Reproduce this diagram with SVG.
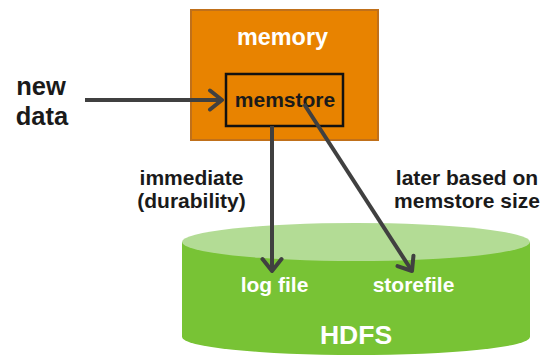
<svg xmlns="http://www.w3.org/2000/svg" width="546" height="355" viewBox="0 0 546 355">
<defs>
<marker id="ah" markerWidth="20" markerHeight="24" refX="16" refY="12" orient="auto" markerUnits="userSpaceOnUse" viewBox="0 0 20 24">
<path d="M4,2.5 L16,12 L4,21.5" fill="none" stroke="#404040" stroke-width="4" stroke-linecap="round" stroke-linejoin="round"/>
</marker>
<style>
text{font-family:"Liberation Sans",Arial,sans-serif;font-weight:bold}
.w{fill:#ffffff}
.k{fill:#1a1a1a}
.c{stroke:#404040;stroke-width:4;fill:none;marker-end:url(#ah)}
</style>
</defs>
<g id="hdfs">
<path d="M182,242 L182,337 A174,18 0 0 0 530,337 L530,242 Z" fill="#78C335"/>
<ellipse cx="356" cy="242" rx="174" ry="19" fill="#B3DC95"/>
<text class="w" x="274.5" y="292" font-size="21" text-anchor="middle">log file</text>
<text class="w" x="413.5" y="292" font-size="21" text-anchor="middle">storefile</text>
<text class="w" x="356" y="344" font-size="26.5" text-anchor="middle">HDFS</text>
</g>
<g id="memory">
<rect x="191" y="10" width="187" height="130" fill="#E88300" stroke="#C0701A" stroke-width="2"/>
<text class="w" x="282.5" y="45" font-size="23.4" text-anchor="middle">memory</text>
</g>
<g id="memstore">
<rect x="226" y="74" width="117" height="52" fill="none" stroke="#111" stroke-width="2.5"/>
<text class="k" x="285" y="107" font-size="21" text-anchor="middle">memstore</text>
</g>
<g id="newdata">
<text class="k" x="41" y="95" font-size="25.5" text-anchor="middle">new</text>
<text class="k" x="42" y="125" font-size="25.5" text-anchor="middle">data</text>
</g>
<g id="labels">
<text class="k" x="191.5" y="185" font-size="21" text-anchor="middle">immediate</text>
<text class="k" x="191.5" y="208" font-size="21" text-anchor="middle">(durability)</text>
<text class="k" x="467" y="185" font-size="21" text-anchor="middle">later based on</text>
<text class="k" x="467" y="208" font-size="21" text-anchor="middle">memstore size</text>
</g>
<g id="connectors">
<line class="c" x1="85" y1="100" x2="222" y2="100"/>
<line class="c" x1="272" y1="126" x2="272" y2="271"/>
<line class="c" x1="304" y1="104" x2="412" y2="271"/>
</g>
</svg>
